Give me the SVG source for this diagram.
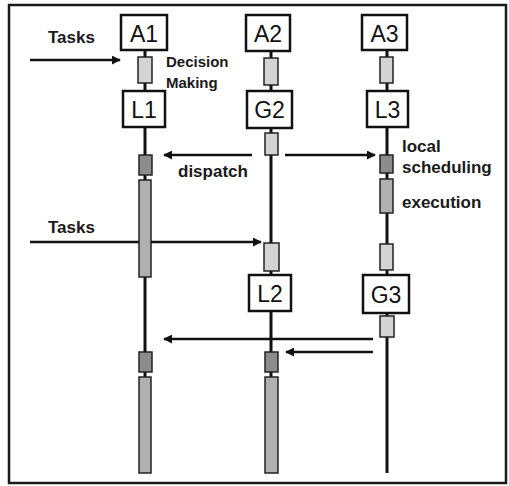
<svg xmlns="http://www.w3.org/2000/svg" width="509" height="486" viewBox="0 0 509 486">
<style>
.frame{fill:#fff;stroke:#1a1a1a;stroke-width:2.5}
.box{fill:#fff;stroke:#111;stroke-width:2.5}
.blbl{font-family:"Liberation Sans",Arial,sans-serif;font-size:23px;fill:#111;text-anchor:middle}
.lbl{font-family:"Liberation Sans",Arial,sans-serif;font-weight:bold;fill:#1a1a1a}
.vl{stroke:#111;stroke-width:3}
.lt{fill:#d4d4d4;stroke:#222;stroke-width:1.5}
.dk{fill:#8c8c8c;stroke:#222;stroke-width:1.5}
.md{fill:#b0b0b0;stroke:#222;stroke-width:1.5}
.arr{stroke:#111;stroke-width:2.5;fill:none}
</style>
<defs>
<marker id="ah" viewBox="0 0 10 10" refX="9" refY="5" markerWidth="3.6" markerHeight="3.6" orient="auto" markerUnits="strokeWidth">
<path d="M0,0 L10,5 L0,10 z" fill="#111"/>
</marker>
</defs>
<rect class="frame" x="9" y="5" width="497" height="478"/>
<g id="connectors">
<line class="arr" x1="30" y1="60" x2="120" y2="60" marker-end="url(#ah)"/>
<line class="arr" x1="30" y1="242" x2="261" y2="242" marker-end="url(#ah)"/>
<line class="arr" x1="252" y1="155" x2="164" y2="155" marker-end="url(#ah)"/>
<line class="arr" x1="285" y1="155" x2="375" y2="155" marker-end="url(#ah)"/>
<line class="arr" x1="373" y1="339" x2="164" y2="339" marker-end="url(#ah)"/>
<line class="arr" x1="373" y1="352" x2="286" y2="352" marker-end="url(#ah)"/>
</g>
<g id="lifelines">
<line class="vl" x1="145" y1="50" x2="145" y2="473"/>
<line class="vl" x1="271" y1="51" x2="271" y2="473"/>
<line class="vl" x1="387" y1="50" x2="387" y2="473"/>
</g>
<g id="col1">
<g id="A1"><rect class="box" x="121" y="15" width="46" height="35"/><text class="blbl" x="144" y="41.5">A1</text></g>
<rect class="lt" x="138" y="57" width="14" height="26"/>
<g id="L1"><rect class="box" x="123" y="91" width="42" height="36"/><text class="blbl" x="144" y="117.5">L1</text></g>
<rect class="dk" x="139" y="155" width="13" height="20"/>
<rect class="md" x="139" y="180" width="12" height="97"/>
<rect class="dk" x="139" y="352" width="13" height="20"/>
<rect class="md" x="139" y="377" width="12" height="96"/>
</g>
<g id="col2">
<g id="A2"><rect class="box" x="246" y="15" width="44" height="36"/><text class="blbl" x="268" y="41.5">A2</text></g>
<rect class="lt" x="264" y="58" width="14" height="27"/>
<g id="G2"><rect class="box" x="247" y="91" width="45" height="37"/><text class="blbl" x="269.5" y="118">G2</text></g>
<rect class="lt" x="265" y="133" width="13" height="22"/>
<rect class="lt" x="264" y="243" width="15" height="28"/>
<g id="L2"><rect class="box" x="249" y="275" width="42" height="36"/><text class="blbl" x="270" y="301.5">L2</text></g>
<rect class="dk" x="265" y="352" width="13" height="20"/>
<rect class="md" x="265" y="377" width="13" height="96"/>
</g>
<g id="col3">
<g id="A3"><rect class="box" x="362" y="15" width="45" height="35"/><text class="blbl" x="384.5" y="41.5">A3</text></g>
<rect class="lt" x="380" y="57" width="13" height="26"/>
<g id="L3"><rect class="box" x="367" y="91" width="41" height="36"/><text class="blbl" x="387.5" y="117.5">L3</text></g>
<rect class="dk" x="380" y="155" width="13" height="18"/>
<rect class="md" x="380" y="179" width="13" height="34"/>
<rect class="lt" x="380" y="244" width="13" height="26"/>
<g id="G3"><rect class="box" x="363" y="275" width="46" height="38"/><text class="blbl" x="386" y="302.5">G3</text></g>
<rect class="lt" x="380" y="316" width="14" height="21"/>
</g>
<g id="labels">
<text class="lbl" x="48" y="43" font-size="17">Tasks</text>
<text class="lbl" x="48" y="233" font-size="17">Tasks</text>
<text class="lbl" x="166" y="67" font-size="15">Decision</text>
<text class="lbl" x="166" y="88" font-size="15">Making</text>
<text class="lbl" x="178" y="177" font-size="17">dispatch</text>
<text class="lbl" x="402" y="152" font-size="17">local</text>
<text class="lbl" x="402" y="173" font-size="17">scheduling</text>
<text class="lbl" x="402" y="208" font-size="17">execution</text>
</g>
</svg>
